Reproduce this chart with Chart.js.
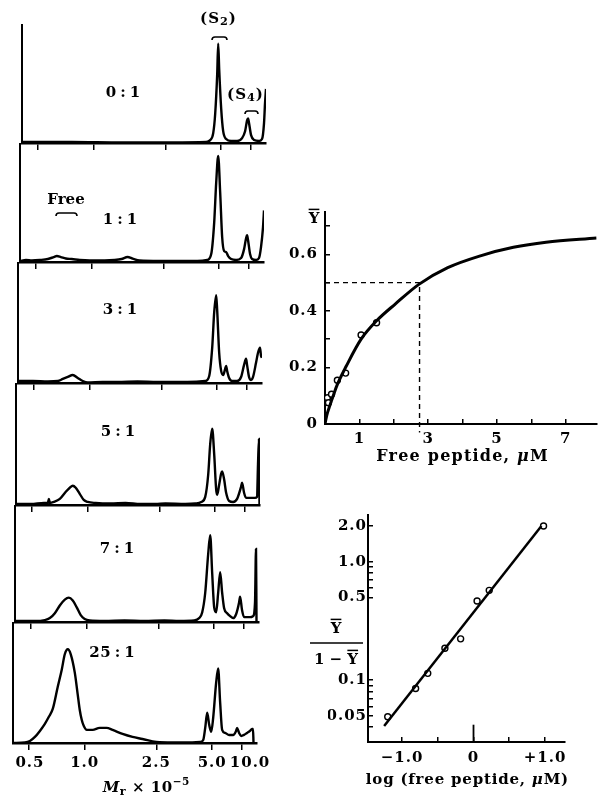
<!DOCTYPE html>
<html>
<head>
<meta charset="utf-8">
<script src="https://cdn.jsdelivr.net/npm/chart.js@4.4.1/dist/chart.umd.min.js"></script>
<style>
  html, body { margin: 0; padding: 0; background: #fff; }
  #page { position: relative; width: 602px; height: 800px; overflow: hidden; background: #fff; }
  #page canvas { position: absolute; }
</style>
</head>
<body>
<div id="page"></div>
<script>
// ---- data ----
const ratioLabels = ["0:1", "1:1", "3:1", "5:1", "7:1", "25:1"];
const mrTicks = [16, 72, 144, 200, 230];           // elution position of the Mr marks
const mrLabelPos = [17, 72, 144, 200, 238];        // where the printed numbers sit
const mrTickLabels = ["0.5", "1.0", "2.5", "5.0", "10.0"];

// elution profiles: [position, absorbance]
const trace0 = [[0,1],[50,1],[100,0.5],[150,0.5],[185,1],[189,3],[192,10],[194,30],[196,70],[197,101],[198,75],[200,35],[202,12],[205,4],[210,2],[216,2],[221,5],[224,12],[226,23],[227,25],[228,20],[230,8],[233,3],[238,2],[241,4],[243,20],[244,40],[245,55]];
const trace1 = [[0,1],[6,2],[12,1.5],[20,2],[28,3],[34,5],[37,6],[41,5],[46,3.5],[52,3],[60,2],[70,1.5],[85,1.5],[95,2],[102,3],[108,5],[113,3.5],[120,1.5],[140,1],[160,1],[178,1],[188,2],[192,8],[195,40],[197,80],[199,107],[201,70],[203,25],[205,11],[207,10],[209,6],[212,3],[217,2],[222,4],[225,13],[227,24],[228,27],[229,22],[231,8],[233,3],[237,2],[240,4],[242,15],[244,35],[245,52]];
const trace2 = [[0,2],[15,2],[30,1.5],[40,2],[45,4],[50,6],[55,8],[60,5],[65,2],[70,0.5],[85,1],[100,1],[120,1.5],[140,1],[170,1],[188,2],[192,7],[195,35],[197,70],[199,87],[200,72],[202,30],[204,12],[206,8],[208,14],[209,17],[210,12],[212,5],[215,2],[220,2],[224,6],[227,18],[229,24],[230,18],[232,6],[234,3],[236,6],[239,20],[241,30],[243,35],[244,27],[245,25]];
const trace3 = [[0,1],[15,1],[28,2],[32,2],[33,6],[34,2],[38,3],[44,6],[50,13],[54,17],[57,19],[60,17],[64,11],[68,5],[72,3],[80,2],[95,1.5],[110,2],[125,1],[140,1],[150,1.5],[170,1],[180,1.5],[186,3],[190,8],[193,30],[195,60],[197,75],[199,50],[201,15],[202,10],[204,20],[206,31],[207,33],[209,25],[211,12],[214,4],[218,3],[222,6],[226,18],[227,22],[229,12],[231,7],[236,7],[240,7],[242,8],[243,40],[244,65],[244.5,0]];
const trace4 = [[0,1],[20,1],[30,2],[35,4],[40,9],[45,17],[50,23],[54,25],[58,22],[62,15],[66,7],[70,3],[75,1.5],[90,1],[110,1.5],[130,1],[150,1.5],[165,1],[180,1.5],[185,4],[188,10],[191,30],[194,70],[196,89],[198,50],[200,15],[202,10],[204,30],[206,51],[208,30],[210,14],[213,9],[216,6],[219,4],[222,8],[225,20],[226,26],[228,12],[230,5],[233,5],[236,5],[239,6],[241,20],[242,75],[242.5,0]];
const trace5 = [[0,0],[12,0.5],[17,2],[22,6],[27,12],[32,19],[36,26],[40,34],[45,56],[49,73],[52,88],[55,93],[58,88],[62,70],[65,48],[67,33],[69,23],[71,17],[74,13],[80,13],[87,15],[94,15],[100,13],[110,9],[120,6],[130,4],[144,1],[160,0.5],[180,0.5],[188,1],[191,3],[193,15],[195,30],[197,18],[199,11],[201,25],[204,60],[206,74],[208,40],[210,13],[213,10],[217,8],[221,8],[224,12],[225,15],[227,10],[229,7],[232,8],[235,10],[238,12],[240,14],[241,14],[241.5,0]];
const traces = [trace0, trace1, trace2, trace3, trace4, trace5];

// saturation curve (free peptide, uM  vs  Y-bar)
const satFree = [0.07, 0.1, 0.19, 0.36, 0.6, 1.05, 1.5];
const satY = [0.093, 0.075, 0.105, 0.155, 0.18, 0.315, 0.358];
const satCurveX = [0, 0.05, 0.14, 0.24, 0.36, 0.62, 1.05, 1.5, 2.05, 2.73, 3.57, 4.52, 5.48, 6.43, 7.9];
const satCurveY = [0, 0.03, 0.065, 0.1, 0.14, 0.205, 0.3, 0.365, 0.425, 0.494, 0.553, 0.595, 0.625, 0.643, 0.658];
const halfGuideX = [0, 2.75, 2.75, 2.75];
const halfGuideY = [0.5, 0.5, 0, -0.03];
const satTicksX = [1, 2, 3, 4, 5, 6, 7];
const satTickLabelsX = ["1", "", "3", "", "5", "", "7"];
const satTicksY = [0, 0.1, 0.2, 0.3, 0.4, 0.5, 0.6, 0.7];
const satTickLabelsY = ["0", "", "0.2", "", "0.4", "", "0.6", ""];

// Hill plot (log free peptide vs Y/(1-Y))
const hillX = [-1.2, -0.81, -0.64, -0.4, -0.18, 0.05, 0.22, 0.98];
const hillY = [0.049, 0.085, 0.114, 0.186, 0.223, 0.465, 0.573, 2.0];
const hillFitX = [-1.25, 0.95];
const hillFitY = [0.041, 2.0];
const hillTicksX = [-1, -0.5, 0, 0.5, 1];
const hillTickLabelsX = ["\u22121.0", "", "0", "", "+1.0"];
const hillTicksY = [0.04, 0.05, 0.06, 0.07, 0.08, 0.09, 0.1, 0.5, 0.6, 0.7, 0.8, 0.9, 1.0, 2.0];
const hillTickLabelsY = ["", "0.05", "", "", "", "", "0.1", "0.5", "", "", "", "", "1.0", "2.0"];

// ---- drawing ----
const SERIF = '"DejaVu Serif", "Liberation Serif", serif';
Chart.defaults.font.family = SERIF;
Chart.defaults.font.size = 15;
Chart.defaults.font.weight = "bold";
Chart.defaults.color = "#000";

const page = document.getElementById("page");
const pts = (xs, ys) => xs.map((x, i) => ({ x: x, y: ys[i] }));

function fontOf(size, italic) {
  return (italic ? "italic " : "") + "bold " + size + "px " + SERIF;
}

// runs: [text, {dy, scale, italic, bar}]
function drawRuns(ctx, x, y, runs, size, align, spacing) {
  ctx.letterSpacing = (spacing || 0) + "px";
  let total = 0;
  const parts = runs.map(function (r) {
    const o = r[1] || {};
    const f = fontOf(size * (o.scale || 1), o.italic);
    ctx.font = f;
    const w = ctx.measureText(r[0]).width;
    total += w;
    return { s: r[0], f: f, w: w, dy: o.dy || 0, bar: o.bar };
  });
  if (spacing) total -= spacing;
  let cx = align === "left" ? x : align === "right" ? x - total : x - total / 2;
  ctx.textAlign = "left";
  ctx.textBaseline = "middle";
  parts.forEach(function (p) {
    ctx.font = p.f;
    ctx.fillText(p.s, cx, y + p.dy);
    if (p.bar) {
      ctx.lineWidth = 1.5;
      ctx.beginPath();
      ctx.moveTo(cx, y - size * 0.64);
      ctx.lineTo(cx + p.w - (spacing || 0), y - size * 0.64);
      ctx.stroke();
    }
    cx += p.w;
  });
  ctx.letterSpacing = "0px";
  return total;
}

function drawNote(ctx, n) {
  if (n.kind === "text") {
    drawRuns(ctx, n.x, n.y, n.runs, n.size || 15, n.align || "center", n.spacing);
  } else if (n.kind === "bracket") {
    ctx.lineWidth = 1.6;
    ctx.beginPath();
    ctx.moveTo(n.x1, n.y + 3);
    ctx.quadraticCurveTo(n.x1, n.y, n.x1 + 3, n.y);
    ctx.lineTo(n.x2 - 3, n.y);
    ctx.quadraticCurveTo(n.x2, n.y, n.x2, n.y + 3);
    ctx.stroke();
  } else if (n.kind === "rule") {
    ctx.lineWidth = 1.5;
    ctx.beginPath();
    ctx.moveTo(n.x1, n.y);
    ctx.lineTo(n.x2, n.y);
    ctx.stroke();
  }
}

function fitTo(prop, v) {
  return function (s) {
    s[prop] = v;
    s.paddingLeft = 0; s.paddingRight = 0; s.paddingTop = 0; s.paddingBottom = 0;
  };
}

function useTicks(values) {
  return function (s) { s.ticks = values.map(v => ({ value: v })); };
}

// area = chart area on the page, m = room round it, yW / xH = axis box sizes
function makeChart(area, m, yW, xH, scales, datasets, notes) {
  const c = document.createElement("canvas");
  const w = area.w + m.l + m.r, h = area.h + m.t + m.b;
  const ox = area.x - m.l, oy = area.y - m.t;
  c.width = w; c.height = h;
  c.style.left = ox + "px"; c.style.top = oy + "px";
  c.style.width = w + "px"; c.style.height = h + "px";
  page.appendChild(c);
  scales.y.afterFit = fitTo("width", yW);
  let rest = xH;
  Object.keys(scales).forEach(function (k) {
    if (k === "y") return;
    const hgt = scales[k].boxHeight !== undefined ? scales[k].boxHeight : rest;
    delete scales[k].boxHeight;
    rest -= hgt;
    scales[k].afterFit = fitTo("height", hgt);
  });
  return new Chart(c, {
    type: "line",
    data: { datasets: datasets },
    options: {
      responsive: false,
      animation: false,
      events: [],
      layout: { padding: { left: m.l - yW, right: m.r, top: m.t, bottom: m.b - xH } },
      plugins: { legend: { display: false }, tooltip: { enabled: false } },
      scales: scales
    },
    plugins: [{
      id: "notes",
      beforeDraw: function (chart) { chart.ctx.letterSpacing = "1px"; },
      afterDraw: function (chart) {
        const ctx = chart.ctx;
        ctx.save();
        ctx.letterSpacing = "0px";
        ctx.fillStyle = "#000";
        ctx.strokeStyle = "#000";
        ctx.translate(-ox, -oy);
        notes.forEach(n => drawNote(ctx, n));
        ctx.restore();
      }
    }]
  });
}

// ---- left panel: six elution profiles ----
const stripLeft = [22, 20, 18, 16, 15, 13];
const stripTop = [25, 143, 262, 383, 505, 622];
const stripBase = [143, 262, 383, 505, 622, 743];
const ratioPos = [[123, 93], [120, 220], [120, 310], [118, 432], [117, 549], [112, 653]];

traces.forEach(function (tr, i) {
  const last = i === traces.length - 1;
  const notes = [{ kind: "text", x: ratioPos[i][0], y: ratioPos[i][1],
    runs: [[ratioLabels[i].replace(":", "\u2009:\u2009")]], spacing: 0.5 }];
  if (i === 0) {
    notes.push({ kind: "text", x: 218, y: 19, runs: [["(S"], ["2", { dy: 3, scale: 0.75 }], [")"]], spacing: 1 });
    notes.push({ kind: "bracket", x1: 212, x2: 227, y: 37 });
    notes.push({ kind: "text", x: 245, y: 95, runs: [["(S"], ["4", { dy: 3, scale: 0.75 }], [")"]], spacing: 1 });
    notes.push({ kind: "bracket", x1: 245, x2: 258, y: 111 });
  }
  if (i === 1) {
    notes.push({ kind: "text", x: 66, y: 200, runs: [["Free"]] });
    notes.push({ kind: "bracket", x1: 56, x2: 77, y: 213 });
  }
  if (last) {
    notes.push({ kind: "text", x: 146, y: 788, size: 15, spacing: 0.5,
      runs: [["M", { italic: true }], ["r", { dy: 4, scale: 0.75 }], [" \u00d7 10"], ["\u22125", { dy: -6, scale: 0.7 }]] });
  }
  const scales = {
    x: {
      type: "linear", min: 0, max: 245, weight: 0, boxHeight: 9,
      afterBuildTicks: useTicks(mrTicks),
      grid: { drawOnChartArea: false, drawTicks: true, tickLength: 7, color: "#000", lineWidth: 1.5 },
      border: { display: true, color: "#000", width: 2.5 },
      ticks: { display: false }
    },
    y: {
      type: "linear", min: 0, max: 120,
      grid: { display: false },
      border: { display: true, color: "#000", width: 2 },
      ticks: { display: false }
    }
  };
  if (last) {
    scales.xl = {
      type: "linear", position: "bottom", min: 0, max: 245, weight: 1,
      afterBuildTicks: useTicks(mrLabelPos),
      grid: { display: false, drawTicks: false },
      border: { display: false },
      ticks: { autoSkip: false, maxRotation: 0, padding: 2, callback: (v, k) => mrTickLabels[k] }
    };
  }
  makeChart(
    { x: stripLeft[i], y: stripTop[i], w: 244, h: stripBase[i] - stripTop[i] },
    { l: 14, r: 14, t: i === 0 ? 25 : 0, b: last ? 57 : 10 },
    0, last ? 40 : 9,
    scales,
    [{ data: tr.map(p => ({ x: p[0], y: p[1] })), borderColor: "#000", borderWidth: 2.4,
       pointRadius: 0, cubicInterpolationMode: "monotone", fill: false }],
    notes
  );
});

// ---- top right: saturation curve ----
makeChart(
  { x: 325, y: 212, w: 277, h: 212 },
  { l: 42, r: 0, t: 18, b: 45 },
  42, 45,
  {
    x: {
      type: "linear", min: 0, max: 7.9,
      afterBuildTicks: useTicks(satTicksX),
      grid: { drawOnChartArea: false, drawTicks: true, tickLength: -5, color: "#000", lineWidth: 1.5 },
      border: { display: true, color: "#000", width: 2 },
      ticks: { autoSkip: false, maxRotation: 0, padding: 11, callback: (v, k) => satTickLabelsX[k] }
    },
    y: {
      type: "linear", min: 0, max: 0.75,
      afterBuildTicks: useTicks(satTicksY),
      grid: { drawOnChartArea: false, drawTicks: true, tickLength: -5, color: "#000", lineWidth: 1.5 },
      border: { display: true, color: "#000", width: 2 },
      ticks: { autoSkip: false, padding: 12, callback: (v, k) => satTickLabelsY[k] }
    }
  },
  [
    { data: pts(halfGuideX, halfGuideY), borderColor: "#000", borderWidth: 1.4, borderDash: [5, 4],
      pointRadius: [0, 0, 0, 3.5], pointStyle: "triangle", rotation: 180, pointBackgroundColor: "#000",
      pointBorderWidth: 0, clip: false, tension: 0 },
    { data: pts(satCurveX, satCurveY), borderColor: "#000", borderWidth: 3, pointRadius: 0,
      cubicInterpolationMode: "monotone" },
    { data: pts(satFree, satY), showLine: false, pointRadius: 3, pointBorderWidth: 1.4,
      pointBorderColor: "#000", pointBackgroundColor: "#fff" }
  ],
  [
    { kind: "text", x: 314, y: 219, runs: [["Y", { bar: true }]] },
    { kind: "text", x: 462, y: 457, size: 16, spacing: 1.2, runs: [["Free peptide, "], ["\u03bc", { italic: true }], ["M"]] }
  ]
);

// ---- bottom right: Hill plot ----
makeChart(
  { x: 368, y: 515, w: 197, h: 227 },
  { l: 63, r: 15, t: 10, b: 50 },
  40, 40,
  {
    x: {
      type: "linear", min: -1.476, max: 1.28,
      afterBuildTicks: useTicks(hillTicksX),
      grid: { drawOnChartArea: false, drawTicks: true, tickLength: -5, color: "#000", lineWidth: 1.5 },
      border: { display: true, color: "#000", width: 2 },
      ticks: { autoSkip: false, maxRotation: 0, padding: 12, callback: (v, k) => hillTickLabelsX[k] }
    },
    y: {
      type: "logarithmic", min: 0.03, max: 2.48,
      afterBuildTicks: useTicks(hillTicksY),
      grid: { drawOnChartArea: false, drawTicks: true, tickLength: -5, color: "#000", lineWidth: 1.5 },
      border: { display: true, color: "#000", width: 2 },
      ticks: { autoSkip: false, padding: 6, callback: (v, k) => hillTickLabelsY[k] }
    }
  },
  [
    { data: pts(hillFitX, hillFitY), borderColor: "#000", borderWidth: 2.5, pointRadius: 0 },
    { data: [{ x: 0, y: 0.03 }, { x: 0, y: 0.042 }], borderColor: "#000", borderWidth: 1.8, pointRadius: 0 },
    { data: pts(hillX, hillY), showLine: false, pointRadius: 3, pointBorderWidth: 1.4,
      pointBorderColor: "#000", pointBackgroundColor: "#fff" }
  ],
  [
    { kind: "text", x: 336, y: 629, runs: [["Y", { bar: true }]] },
    { kind: "rule", x1: 310, x2: 363, y: 643 },
    { kind: "text", x: 336, y: 660, runs: [["1 \u2212 "], ["Y", { bar: true }]] },
    { kind: "text", x: 467, y: 780, spacing: 0.8, runs: [["log (free peptide, "], ["\u03bc", { italic: true }], ["M)"]] }
  ]
);
</script>
</body>
</html>
